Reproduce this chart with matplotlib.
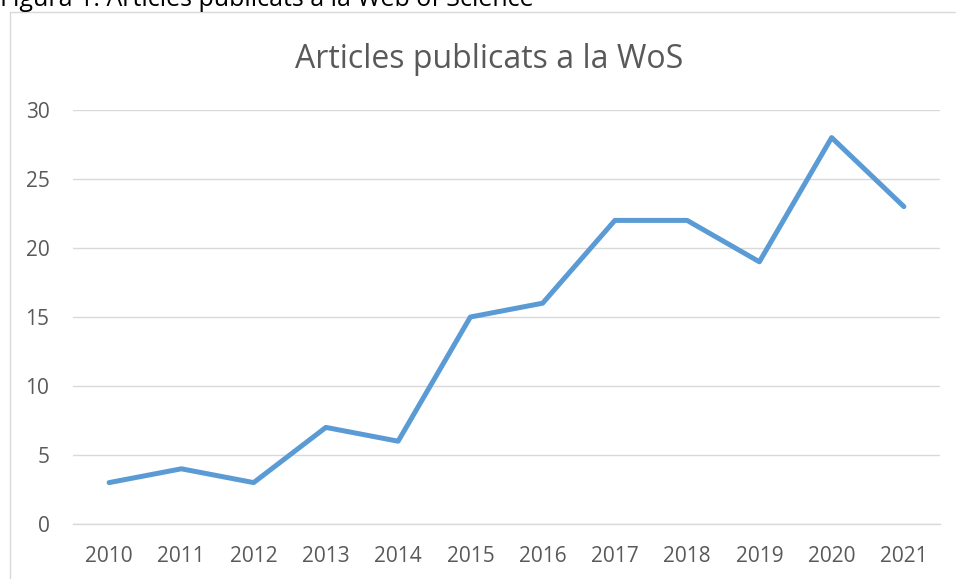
import matplotlib
matplotlib.use("Agg")
import matplotlib.pyplot as plt
from matplotlib.patches import Rectangle

years = ["2010", "2011", "2012", "2013", "2014", "2015", "2016", "2017", "2018", "2019", "2020", "2021"]
articles = [3, 4, 3, 7, 6, 15, 16, 22, 22, 19, 28, 23]
yticks = [0, 5, 10, 15, 20, 25, 30]

W, H = 956, 579
fig = plt.figure(figsize=(W / 100, H / 100), dpi=100)
plt.rcParams['font.family'] = ['Open Sans', 'DejaVu Sans']

# chart border
fig.patches.append(Rectangle((10 / W, -0.1), 1.1, 1.1 - 12 / H, transform=fig.transFigure,
                             fill=False, edgecolor='#d9d9d9', linewidth=1.0))

ax = fig.add_axes([73 / W, 1 - 524 / H, (940 - 73) / W, (524 - 110) / H])
x = list(range(len(years)))
ax.plot(x, articles, color='#5B9BD5', linewidth=3.6, solid_capstyle='round', solid_joinstyle='round', zorder=3)
ax.set_xlim(-0.5, len(years) - 0.5)
ax.set_ylim(0, 30)
ax.set_yticks(yticks)
ax.set_xticks(x)
ax.set_xticklabels(years)
ax.grid(axis='y', color='#d9d9d9', linewidth=1.0)
ax.set_axisbelow(True)
for s in ['top', 'right', 'left']:
    ax.spines[s].set_visible(False)
ax.spines['bottom'].set_color('#d9d9d9')
ax.spines['bottom'].set_linewidth(1.0)
ax.tick_params(axis='both', length=0, labelsize=15, colors='#595959')
ax.tick_params(axis='x', pad=16)
ax.tick_params(axis='y', pad=17)

fig.text(489 / W, 1 - 60 / H, "Articles publicats a la WoS", ha='center', va='center', fontsize=23, color='#595959')
fig.text(0 / W, 1 - 0 / H, "Figura 1: Articles publicats a la Web of Science", ha='left', va='center', fontsize=18, color='#000000')

fig.savefig("out.png", dpi=100)
